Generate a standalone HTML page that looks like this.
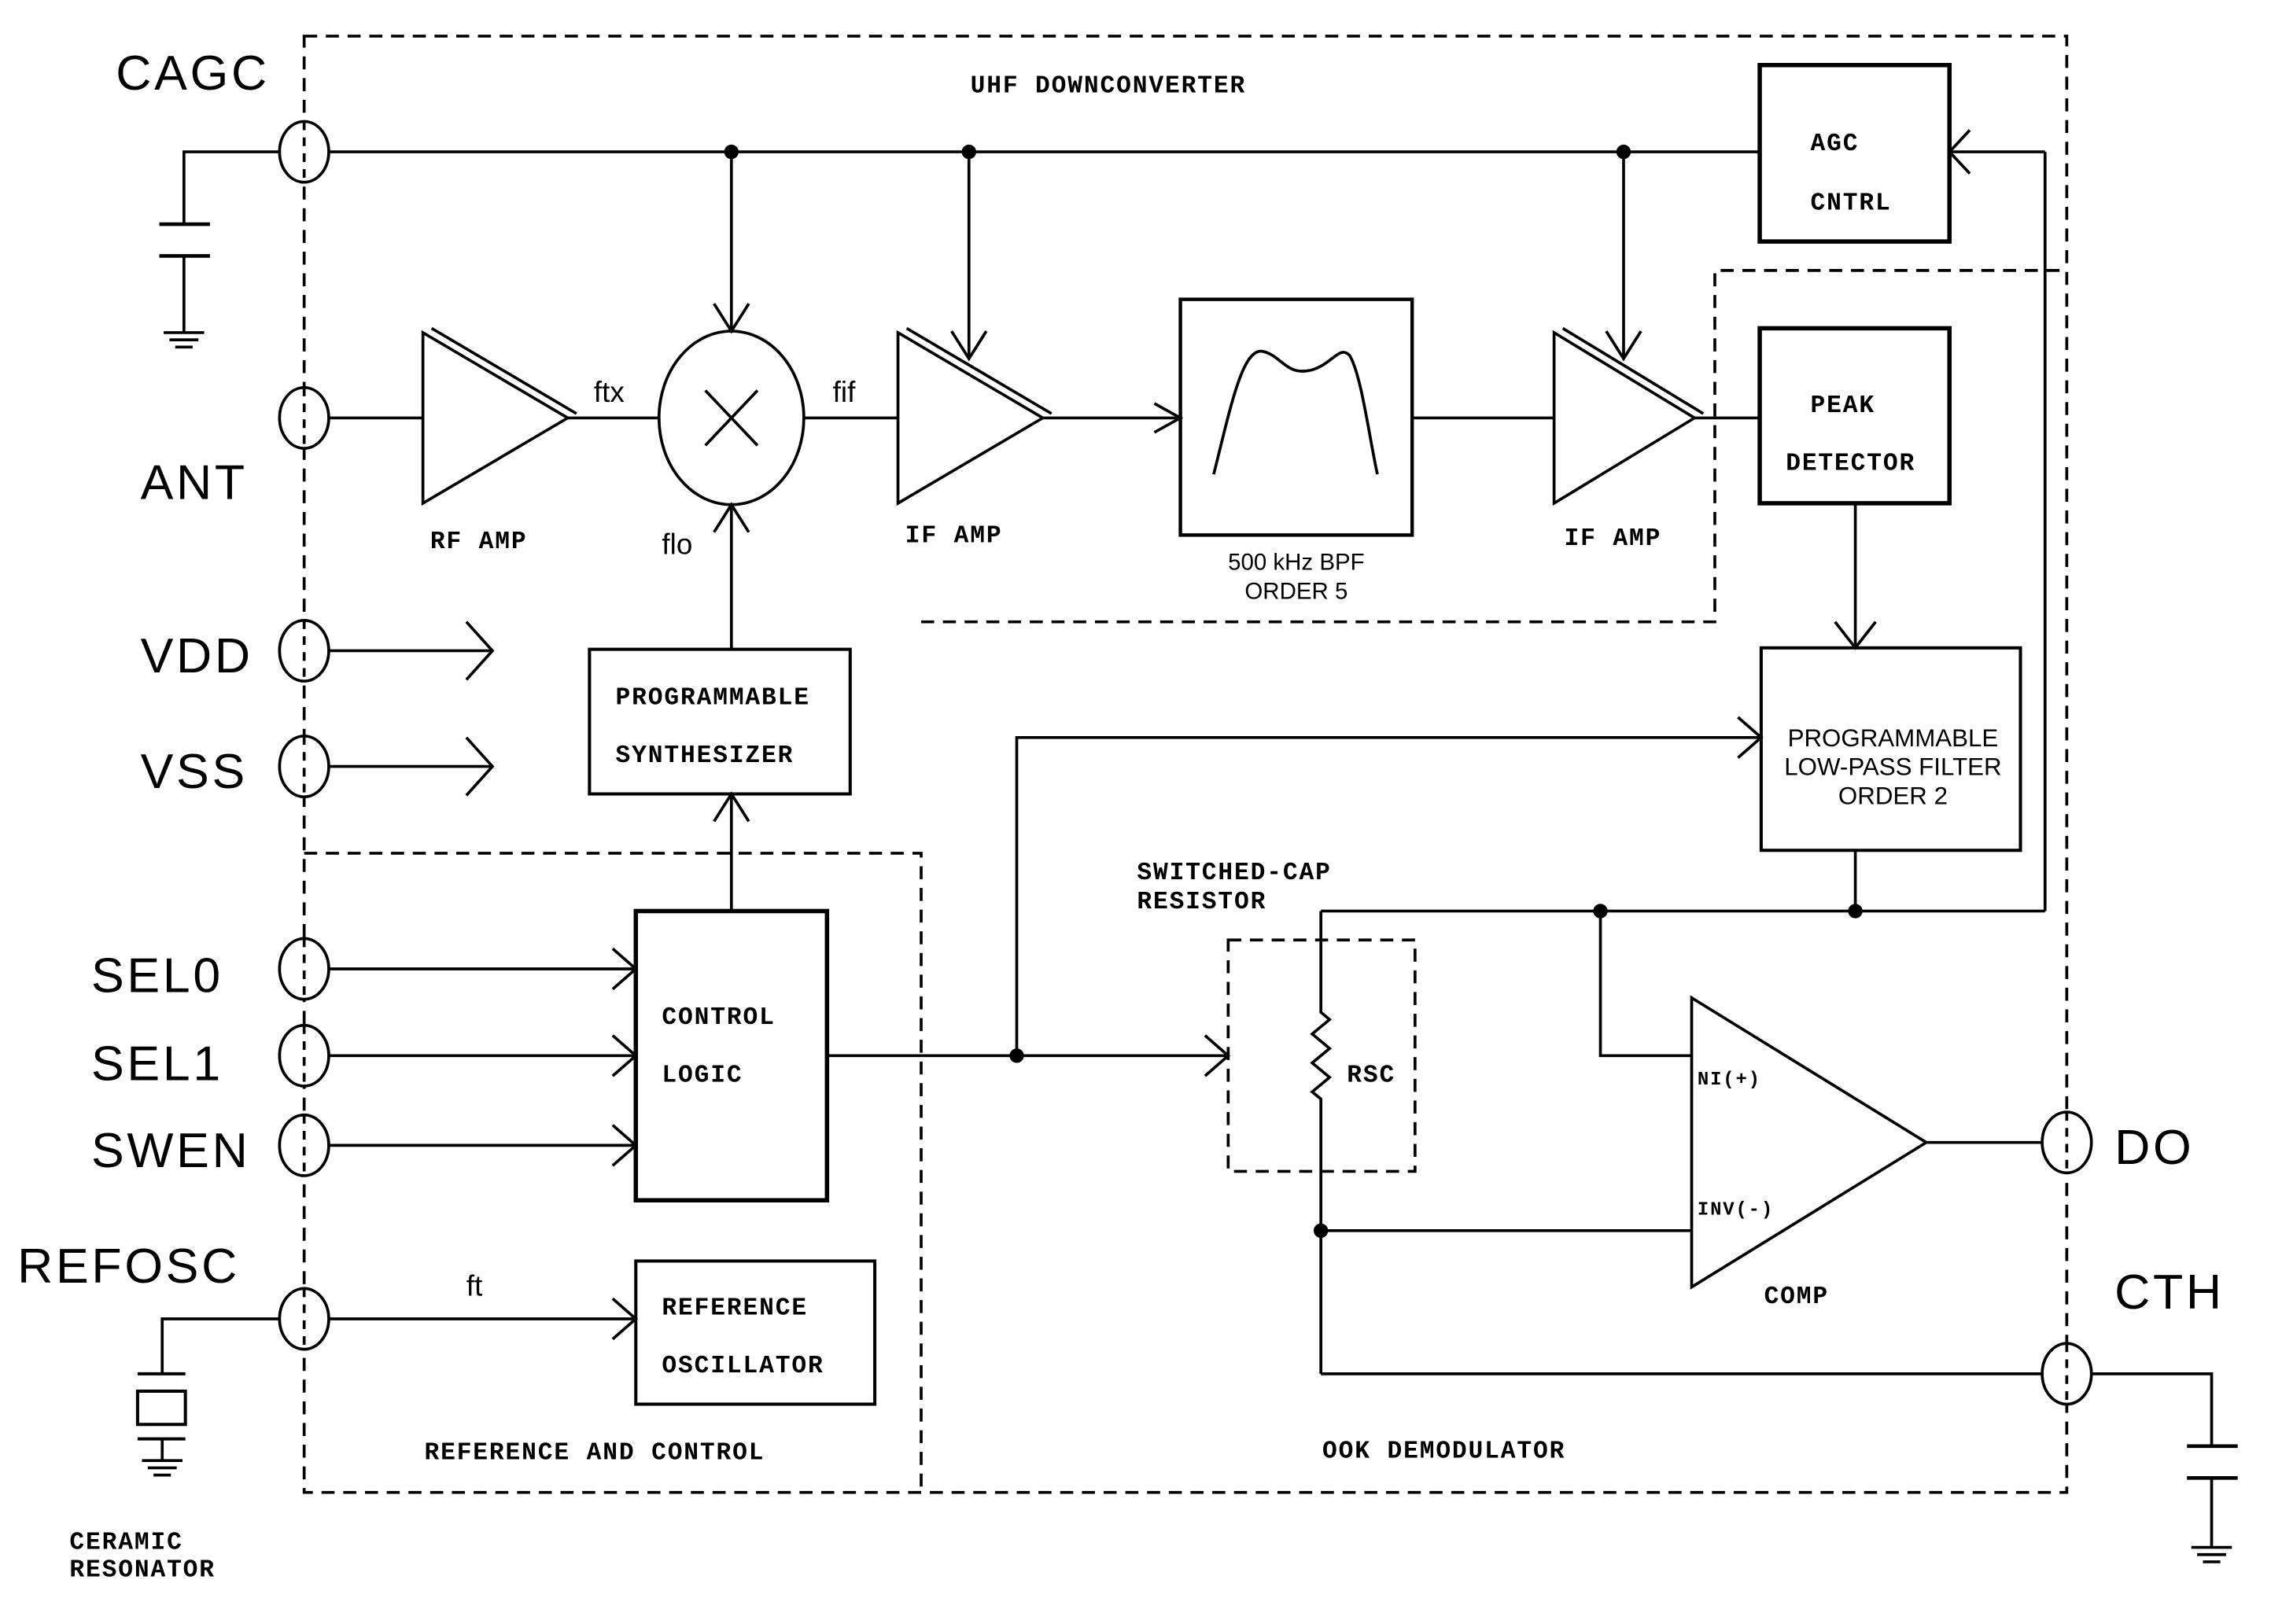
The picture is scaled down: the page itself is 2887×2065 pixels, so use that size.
<!DOCTYPE html>
<html><head><meta charset="utf-8"><style>
html,body{margin:0;padding:0;background:#fff;}
svg{display:block}
text{font-family:"Liberation Sans",sans-serif;fill:#000}
.b{font-family:"Liberation Mono",monospace;font-weight:bold;font-size:17px;letter-spacing:1px}
.p{font-size:34px;letter-spacing:2px}
.s{font-size:17px}
</style></head><body>
<svg width="2887" height="2065" viewBox="0 0 1568 1123" preserveAspectRatio="none" xmlns="http://www.w3.org/2000/svg">
<g fill="none" stroke="#000" stroke-width="2">
<!-- dashed boundaries -->
<g stroke-dasharray="9,6">
<rect x="210" y="25" width="1217" height="1007"/>
<polyline points="210,590 636,590 636,1032"/>
<polyline points="636,430 1184,430 1184,187 1427,187"/>
<rect x="848" y="650" width="129" height="160"/>
</g>
<!-- pins -->
<g fill="#fff">
<ellipse cx="210" cy="105" rx="17" ry="21"/><ellipse cx="210" cy="289" rx="17" ry="21"/>
<ellipse cx="210" cy="450" rx="17" ry="21"/><ellipse cx="210" cy="530" rx="17" ry="21"/>
<ellipse cx="210" cy="670" rx="17" ry="21"/><ellipse cx="210" cy="730" rx="17" ry="21"/>
<ellipse cx="210" cy="792" rx="17" ry="21"/><ellipse cx="210" cy="912" rx="17" ry="21"/>
<ellipse cx="1427" cy="790" rx="17" ry="21"/><ellipse cx="1427" cy="950" rx="17" ry="21"/>
</g>
<g stroke-dasharray="6,5">
<line x1="210" y1="84" x2="210" y2="126"/><line x1="210" y1="268" x2="210" y2="310"/>
<line x1="210" y1="429" x2="210" y2="471"/><line x1="210" y1="509" x2="210" y2="551"/>
<line x1="210" y1="649" x2="210" y2="691"/><line x1="210" y1="709" x2="210" y2="751"/>
<line x1="210" y1="771" x2="210" y2="813"/><line x1="210" y1="891" x2="210" y2="933"/>
<line x1="1427" y1="769" x2="1427" y2="811"/><line x1="1427" y1="929" x2="1427" y2="971"/>
</g>
<!-- CAGC cap -->
<polyline points="193,105 127,105 127,155"/>
<line x1="110" y1="155" x2="145" y2="155" stroke-width="2.5"/>
<line x1="110" y1="177" x2="145" y2="177" stroke-width="2.5"/>
<line x1="127" y1="177" x2="127" y2="230"/>
<line x1="113" y1="230" x2="141" y2="230"/><line x1="117" y1="235" x2="137" y2="235"/><line x1="121" y1="240" x2="133" y2="240"/>
<!-- top line -->
<line x1="227" y1="105" x2="1215" y2="105"/>
<polyline points="1412,105 1346,105"/><polyline points="1360,90 1346,105 1360,120"/>
<line x1="1412" y1="105" x2="1412" y2="630"/>
<rect x="1215" y="45" width="131" height="122" stroke-width="3"/>
<!-- RF path -->
<line x1="227" y1="289" x2="292" y2="289"/>
<polygon points="292,230 392,289 292,348"/>
<line x1="298" y1="227" x2="398" y2="286"/>
<line x1="392" y1="289" x2="455" y2="289"/>
<ellipse cx="505" cy="289" rx="50" ry="60"/>
<line x1="487" y1="270" x2="523" y2="308"/><line x1="523" y1="270" x2="487" y2="308"/>
<line x1="505" y1="105" x2="505" y2="229"/><polyline points="493,210 505,229 517,210"/>
<line x1="555" y1="289" x2="620" y2="289"/>
<line x1="505" y1="449" x2="505" y2="349"/><polyline points="493,368 505,349 517,368"/>
<polygon points="620,230 720,289 620,348"/>
<line x1="626" y1="227" x2="726" y2="286"/>
<line x1="669" y1="105" x2="669" y2="248"/><polyline points="657,229 669,248 681,229"/>
<line x1="720" y1="289" x2="815" y2="289"/><polyline points="797,279 815,289 797,299"/>
<rect x="815" y="207" width="160" height="163" stroke-width="2.4"/>
<path d="M838,328 C850,280 858,240 872,243 C885,246 888,260 905,256 C920,252 925,238 932,246 C940,260 945,300 951,328"/>
<line x1="975" y1="289" x2="1073" y2="289"/>
<polygon points="1073,230 1170,289 1073,348"/>
<line x1="1079" y1="227" x2="1176" y2="286"/>
<line x1="1121" y1="105" x2="1121" y2="248"/><polyline points="1109,229 1121,248 1133,229"/>
<line x1="1170" y1="289" x2="1215" y2="289"/>
<rect x="1215" y="227" width="131" height="121" stroke-width="3"/>
<line x1="1281" y1="348" x2="1281" y2="448"/><polyline points="1267,430 1281,448 1295,430"/>
<rect x="1216" y="448" width="179" height="140" stroke-width="2.2"/>
<line x1="1281" y1="588" x2="1281" y2="630"/>
<line x1="912" y1="630" x2="1412" y2="630"/>
<polyline points="1105,630 1105,730 1168,730"/>
<polygon points="1168,690 1330,790 1168,890"/>
<line x1="1330" y1="790" x2="1410" y2="790"/>
<!-- left side -->
<rect x="407" y="449" width="180" height="100" stroke-width="2.2"/>
<rect x="439" y="630" width="132" height="200" stroke-width="3"/>
<line x1="505" y1="630" x2="505" y2="549"/><polyline points="493,568 505,549 517,568"/>
<line x1="227" y1="450" x2="340" y2="450"/><polyline points="322,430 340,450 322,470"/>
<line x1="227" y1="530" x2="340" y2="530"/><polyline points="322,510 340,530 322,550"/>
<line x1="227" y1="670" x2="439" y2="670"/><polyline points="423,656 439,670 423,684"/>
<line x1="227" y1="730" x2="439" y2="730"/><polyline points="423,716 439,730 423,744"/>
<line x1="227" y1="792" x2="439" y2="792"/><polyline points="423,778 439,792 423,806"/>
<line x1="571" y1="730" x2="848" y2="730"/><polyline points="832,716 848,730 832,744"/>
<polyline points="702,730 702,510 1216,510"/><polyline points="1200,496 1216,510 1200,524"/>
<!-- RSC -->
<polyline points="912,630 912,700 918,705 906,715 918,725 906,735 918,745 906,755 912,760 912,950"/>
<line x1="912" y1="851" x2="1168" y2="851"/>
<line x1="912" y1="950" x2="1410" y2="950"/>
<!-- CTH cap -->
<polyline points="1444,950 1527,950 1527,1000"/>
<line x1="1510" y1="1000" x2="1545" y2="1000" stroke-width="2.5"/>
<line x1="1510" y1="1022" x2="1545" y2="1022" stroke-width="2.5"/>
<line x1="1527" y1="1022" x2="1527" y2="1070"/>
<line x1="1513" y1="1070" x2="1541" y2="1070"/><line x1="1517" y1="1075" x2="1537" y2="1075"/><line x1="1521" y1="1080" x2="1533" y2="1080"/>
<!-- REFOSC -->
<line x1="227" y1="912" x2="439" y2="912"/><polyline points="423,898 439,912 423,926"/>
<rect x="439" y="872" width="165" height="99" stroke-width="2.2"/>
<polyline points="193,912 112,912 112,950"/>
<line x1="95" y1="950" x2="128" y2="950" stroke-width="2.2"/>
<rect x="95" y="962" width="33" height="23" stroke-width="2.2"/>
<line x1="95" y1="995" x2="128" y2="995" stroke-width="2.2"/>
<line x1="112" y1="995" x2="112" y2="1010"/>
<line x1="98" y1="1010" x2="126" y2="1010"/><line x1="102" y1="1015" x2="122" y2="1015"/><line x1="106" y1="1020" x2="118" y2="1020"/>
</g>
<g fill="#000">
<circle cx="505" cy="105" r="5"/><circle cx="669" cy="105" r="5"/><circle cx="1121" cy="105" r="5"/>
<circle cx="1105" cy="630" r="5"/><circle cx="1281" cy="630" r="5"/><circle cx="702" cy="730" r="5"/>
<circle cx="912" cy="851" r="5"/>
</g>
<!-- labels -->
<text class="p" x="80" y="62">CAGC</text>
<text class="p" x="97" y="345">ANT</text>
<text class="p" x="97" y="465">VDD</text>
<text class="p" x="97" y="545">VSS</text>
<text class="p" x="63" y="686">SEL0</text>
<text class="p" x="63" y="747">SEL1</text>
<text class="p" x="63" y="807">SWEN</text>
<text class="p" x="12" y="887">REFOSC</text>
<text class="p" x="1460" y="805">DO</text>
<text class="p" x="1460" y="905">CTH</text>
<text class="b" x="670" y="64">UHF DOWNCONVERTER</text>
<text class="b" x="1250" y="104">AGC</text>
<text class="b" x="1250" y="145">CNTRL</text>
<text class="b" x="297" y="379">RF AMP</text>
<text class="b" x="625" y="375">IF AMP</text>
<text class="b" x="1080" y="377">IF AMP</text>
<text class="b" x="1250" y="285">PEAK</text>
<text class="b" x="1233" y="325">DETECTOR</text>
<text class="b" x="425" y="487">PROGRAMMABLE</text>
<text class="b" x="425" y="527">SYNTHESIZER</text>
<text class="b" x="457" y="708">CONTROL</text>
<text class="b" x="457" y="748">LOGIC</text>
<text class="b" x="457" y="909">REFERENCE</text>
<text class="b" x="457" y="949">OSCILLATOR</text>
<text class="b" x="293" y="1009">REFERENCE AND CONTROL</text>
<text class="b" x="913" y="1008">OOK DEMODULATOR</text>
<text class="b" x="785" y="608">SWITCHED-CAP</text>
<text class="b" x="785" y="628">RESISTOR</text>
<text class="b" x="930" y="748">RSC</text>
<text class="b" x="1218" y="901">COMP</text>
<text class="b" x="1172" y="750" style="font-size:13px">NI(+)</text>
<text class="b" x="1172" y="840" style="font-size:13px">INV(-)</text>
<text class="b" x="48" y="1071">CERAMIC</text>
<text class="b" x="48" y="1090">RESONATOR</text>
<text class="s" x="895" y="394" text-anchor="middle" style="font-size:16px">500 kHz BPF</text>
<text class="s" x="895" y="414" text-anchor="middle" style="font-size:16px">ORDER 5</text>
<text class="s" x="1307" y="516" text-anchor="middle">PROGRAMMABLE</text>
<text class="s" x="1307" y="536" text-anchor="middle">LOW-PASS FILTER</text>
<text class="s" x="1307" y="556" text-anchor="middle">ORDER 2</text>
<text x="410" y="278" style="font-size:20px">ftx</text>
<text x="575" y="278" style="font-size:20px">fif</text>
<text x="457" y="383" style="font-size:20px">flo</text>
<text x="322" y="896" style="font-size:20px">ft</text>
</svg>
</body></html>
